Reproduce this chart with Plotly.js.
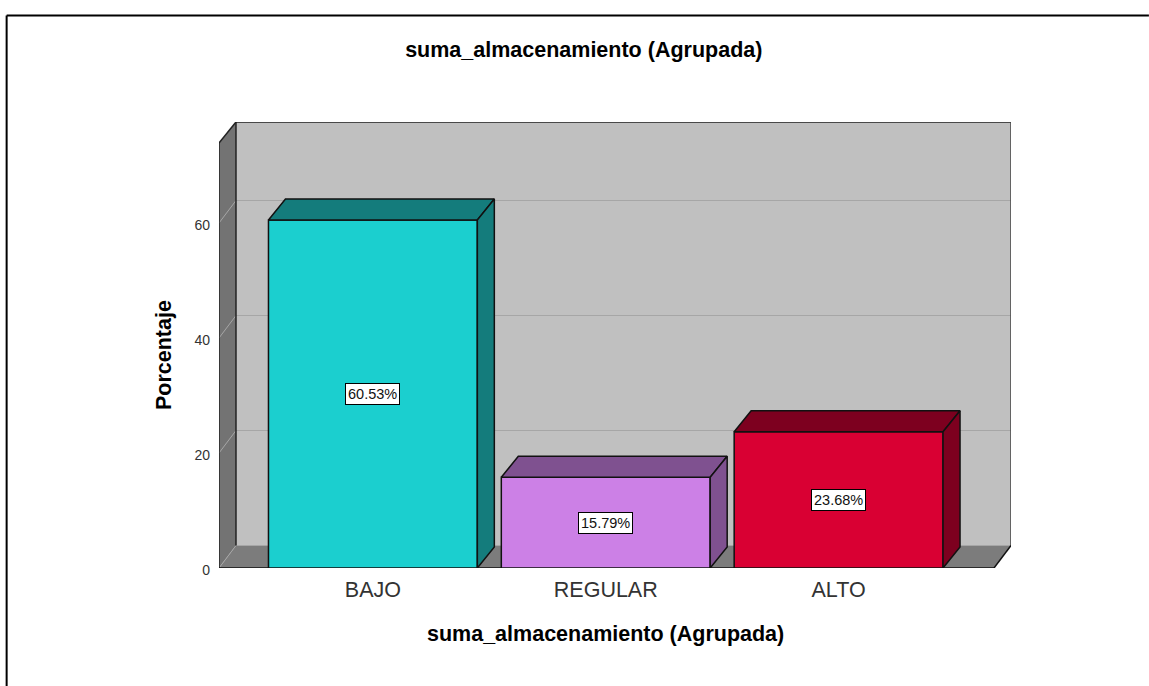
<!DOCTYPE html>
<html><head><meta charset="utf-8">
<script src="https://cdn.plot.ly/plotly-3.0.1.min.js"></script>
<style>html,body{margin:0;padding:0;background:#fff}#c{width:1149px;height:686px}</style>
</head><body><div id="c"></div>
<script>
const categories = ["BAJO","REGULAR","ALTO"];
const values = [60.53,15.79,23.68];
const labels = ["60.53%","15.79%","23.68%"];
const frontColors = ["#1bcfcf","#cc80e6","#d90033"];
const sideColors = ["#147c7c","#7f5190","#7d001f"];
const yTicks = [0,20,40,60];
const titleText = "suma_almacenamiento (Agrupada)";
const yTitleText = "Porcentaje";

const W=1149,H=686,L=218.5,R=1011,T=122,B=568;
const pxX=233, pxY=5.75;
const dx=17/pxX, dy=21/pxY, wallDy=22.5/pxY;
const xMin=(L-372.5)/pxX, xMax=(R-372.5)/pxX, yMax=(B-T)/pxY;
const xFront=xMax-dx, yFront=yMax-21/pxY;
const bw=209/pxX;
const edge="#111", soft="#a6a6a6", floorC="#7c7c7c", wallC="#c0c0c0", sideC="#737373";
const poly=(pts,fill,line)=>({type:"path",layer:"below",xref:"x",yref:"y",
  path:"M"+pts.map(p=>p.join(",")).join("L")+"Z",fillcolor:fill,line:line||{width:0}});
const seg=(x0,y0,x1,y1,color,w)=>({type:"line",layer:"below",xref:"x",yref:"y",x0,y0,x1,y1,line:{color,width:w}});
const px=(v)=>(v-L)/(R-L), py=(v)=>(B-v)/(B-T);

const shapes=[
  poly([[xMin+dx,wallDy],[xMin+dx,yMax],[xMax,yMax],[xMax,wallDy]],wallC),
  poly([[xMin,0],[xMin,yFront],[xMin+dx,yMax],[xMin+dx,wallDy]],sideC),
  poly([[xMin,0],[xFront,0],[xMax,wallDy],[xMin+dx,wallDy]],floorC),
];
yTicks.filter(t=>t>0).forEach(t=>{
  shapes.push(seg(xMin,t,xMin+dx,t+wallDy,soft,1));
  shapes.push(seg(xMin+dx,t+wallDy,xMax,t+wallDy,soft,1));
});
shapes.push(seg(xMin,0,xMin+dx,wallDy,soft,1));
shapes.push(seg(xMin+dx,wallDy,xMax,wallDy,soft,1));
shapes.push(seg(xMin+dx,wallDy,xMin+dx,yMax,"#222",1.5));
shapes.push(seg(xMin+dx,yMax,xMax,yMax,"#222",1.5));
shapes.push(seg(xMax,yMax,xMax,wallDy,"#444",1.5));
shapes.push(seg(xMin,0,xMin,yFront,"#222",1.5));
shapes.push(seg(xMin,yFront,xMin+dx,yMax,"#222",1.5));
shapes.push(seg(xMin,0,xFront,0,"#111",1.5));
shapes.push(seg(xFront,0,xMax,wallDy,"#111",1.5));
const frame=(x0,y0,x1,y1)=>({type:"line",xref:"paper",yref:"paper",x0:px(x0),y0:py(y0),x1:px(x1),y1:py(y1),line:{color:"#000",width:2}});
shapes.push(frame(6,15.5,W,15.5));
shapes.push(frame(6,15.5,6,H));

const traces=[{type:"bar",x:[0,1,2],y:values,width:bw,
  marker:{color:frontColors,line:{color:edge,width:1.5}},hoverinfo:"skip",showlegend:false}];
values.forEach((v,i)=>{
  const xl=i-bw/2, xr=i+bw/2;
  traces.push({type:"scatter",mode:"lines",fill:"toself",fillcolor:sideColors[i],
    x:[xl,xl+dx,xr+dx,xr,xl],y:[v,v+dy,v+dy,v,v],
    line:{color:edge,width:1.5},hoverinfo:"skip",showlegend:false});
  traces.push({type:"scatter",mode:"lines",fill:"toself",fillcolor:sideColors[i],
    x:[xr,xr+dx,xr+dx,xr,xr],y:[0,dy,v+dy,v,0],
    line:{color:edge,width:1.5},hoverinfo:"skip",showlegend:false});
});

const font="'Liberation Sans',Arial,sans-serif";
const boldFont={family:font,size:21.5,color:"#000",weight:"bold"};
const annotations=values.map((v,i)=>({x:i,y:v/2,xref:"x",yref:"y",text:labels[i],showarrow:false,
  font:{family:font,size:14.5,color:"#111"},bgcolor:"#fff",bordercolor:"#000",borderwidth:1,borderpad:2}));
annotations.push({xref:"paper",yref:"paper",x:px(605.5),y:py(634),text:titleText,showarrow:false,font:boldFont,xanchor:"center",yanchor:"middle"});
annotations.push({xref:"paper",yref:"paper",x:px(163),y:py(355.5),text:yTitleText,textangle:-90,showarrow:false,font:boldFont,xanchor:"center",yanchor:"middle"});

Plotly.newPlot("c",traces,{
  width:W,height:H,paper_bgcolor:"#fff",plot_bgcolor:"#fff",
  margin:{l:L,r:W-R,t:T,b:H-B,pad:0},
  title:{text:titleText,font:boldFont,
    x:px(583.5),xanchor:"center",xref:"paper",y:1-49/H,yanchor:"middle",yref:"container"},
  xaxis:{range:[xMin,xMax],tickmode:"array",tickvals:[0,1,2],ticktext:categories,showgrid:false,zeroline:false,
    showline:false,ticks:"",ticklabelstandoff:6,tickfont:{family:font,size:21.5,color:"#333"}},
  yaxis:{range:[0,yMax],tickmode:"array",tickvals:yTicks,showgrid:false,zeroline:false,showline:false,
    ticks:"",ticklabelstandoff:8,ticklabelshift:2,tickfont:{family:font,size:14,color:"#333"}},
  shapes,annotations,bargap:0
},{staticPlot:true,displayModeBar:false});
</script></body></html>
